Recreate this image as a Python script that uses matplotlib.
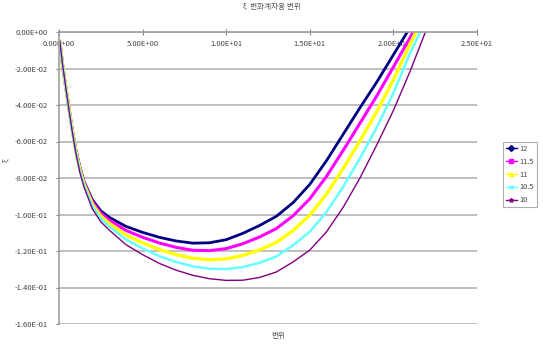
import matplotlib
matplotlib.use("Agg")
import matplotlib.pyplot as plt
from matplotlib.lines import Line2D
from matplotlib.ticker import FuncFormatter, FixedLocator

plt.rcParams['font.family'] = ['Noto Sans CJK KR', 'DejaVu Sans']

title = "ξ  변화계자용 변위"
xlabel = "변위"
ylabel = "ξ"

x = [0.05, 0.2, 0.4, 0.6, 0.8, 1.0, 1.25, 1.5, 2.0, 2.5, 3.0, 4.0, 5.0, 6.0, 7.0,
     8.0, 9.0, 10.0, 11.0, 12.0, 13.0, 14.0, 15.0, 16.0, 17.0, 18.0, 19.0, 20.0, 21.0, 22.0]

s12 = [-0.005, -0.017, -0.030, -0.042, -0.054, -0.064, -0.074, -0.082, -0.092, -0.098,
       -0.1015, -0.1065, -0.1098, -0.1125, -0.1145, -0.1157, -0.1155, -0.1138, -0.1103,
       -0.1060, -0.1010, -0.0935, -0.0835, -0.0705, -0.0560, -0.0415, -0.0275, -0.0125,
       0.0025, 0.018]
s115 = [-0.005, -0.017, -0.030, -0.042, -0.054, -0.0644, -0.0747, -0.0827, -0.0931, -0.0993,
        -0.1030, -0.1087, -0.1125, -0.1156, -0.1180, -0.1196, -0.1198, -0.1187, -0.1160,
        -0.1123, -0.1077, -0.1007, -0.0914, -0.0791, -0.0648, -0.0500, -0.0351, -0.0192,
        -0.0030, 0.0145]
s11 = [-0.005, -0.017, -0.030, -0.042, -0.0545, -0.0649, -0.0754, -0.0834, -0.0944, -0.1008,
       -0.1048, -0.1112, -0.1155, -0.1192, -0.1220, -0.1240, -0.1248, -0.1243, -0.1224,
       -0.1194, -0.1153, -0.1088, -0.1004, -0.0888, -0.0748, -0.0596, -0.0437, -0.0262,
       -0.0065, 0.0115]
s105 = [-0.005, -0.017, -0.030, -0.043, -0.055, -0.0654, -0.0762, -0.0842, -0.0956, -0.1023,
        -0.1065, -0.1137, -0.1186, -0.1228, -0.1260, -0.1284, -0.1297, -0.1299, -0.1288,
        -0.1265, -0.1230, -0.1169, -0.1094, -0.0986, -0.0848, -0.0692, -0.0523, -0.0335,
        -0.0115, 0.0075]
s10 = [-0.005, -0.017, -0.030, -0.043, -0.055, -0.066, -0.077, -0.085, -0.097, -0.104,
       -0.1085, -0.1165, -0.1220, -0.1268, -0.1305, -0.1333, -0.1352, -0.1361, -0.1360,
       -0.1345, -0.1315, -0.1260, -0.1195, -0.1095, -0.0960, -0.0800, -0.0620, -0.0430,
       -0.0215, 0.002]

labels = ["12", "11.5", "11", "10.5", "10"]
series = [s12, s115, s11, s105, s10]
colors = ["#000080", "#FF00FF", "#FFFF00", "#66FFFF", "#800080"]
widths = [2.0, 2.2, 2.4, 1.8, 1.0]
markers = ["D", "s", "^", "x", "*"]

xticks = [0, 5, 10, 15, 20, 25]
yticks = [0, -0.02, -0.04, -0.06, -0.08, -0.10, -0.12, -0.14, -0.16]

fig = plt.figure(figsize=(5.43, 3.52), dpi=100)
ax = fig.add_axes([59 / 543, 1 - 324 / 352, (477 - 59) / 543, (324 - 32) / 352])

for ys, c, lw in zip(series, colors, widths):
    ax.plot(x, ys, color=c, lw=lw, solid_capstyle='round', solid_joinstyle='round')

ax.set_xlim(0, 25)
ax.set_ylim(-0.16, 0)

fmt = FuncFormatter(lambda v, p: f"{v:.2E}")
ax.xaxis.set_major_locator(FixedLocator(xticks))
ax.yaxis.set_major_locator(FixedLocator(yticks))
ax.xaxis.set_major_formatter(fmt)
ax.yaxis.set_major_formatter(fmt)

ax.grid(axis='y', color='#b4b4b4', lw=1.2)
ax.set_axisbelow(True)
for s in ['right', 'bottom']:
    ax.spines[s].set_visible(False)
ax.spines['left'].set_color('#a0a0a0')
ax.spines['left'].set_linewidth(1.2)
ax.spines['top'].set_color('#a0a0a0')
ax.spines['top'].set_linewidth(1.2)

ax.xaxis.tick_top()
ax.tick_params(axis='x', direction='inout', length=4, color='#808080', pad=-8,
               labelsize=5.5, labelcolor='#444444')
ax.tick_params(axis='y', direction='out', length=2, color='#808080', pad=6,
               labelsize=5.5, labelcolor='#444444')
for lbl in ax.get_xticklabels():
    lbl.set_va('top')

fig.text(272 / 543, 1 - 7 / 352, title, ha='center', va='center', fontsize=5.5, color='#555555')
fig.text(278 / 543, 1 - 336 / 352, xlabel, ha='center', va='center', fontsize=5.5, color='#555555')
fig.text(6 / 543, 1 - 160 / 352, ylabel, ha='center', va='center', fontsize=5.5, color='#555555',
         rotation=90)

handles = [Line2D([0], [0], color=c, lw=1.0, marker=m, markersize=3,
                  markerfacecolor=c, markeredgecolor=c)
           for c, m in zip(colors, markers)]
leg = fig.legend(handles, labels, loc='upper left', bbox_to_anchor=(503 / 543, 1 - 142 / 352),
                 fontsize=5.3, frameon=True, fancybox=False, handlelength=1.5,
                 borderpad=0.4, labelspacing=0.65, handletextpad=0.3, borderaxespad=0.0)
leg.get_frame().set_edgecolor('#999999')
leg.get_frame().set_linewidth(0.8)
for t in leg.get_texts():
    t.set_color('#444444')

fig.savefig("out.png", dpi=100)
